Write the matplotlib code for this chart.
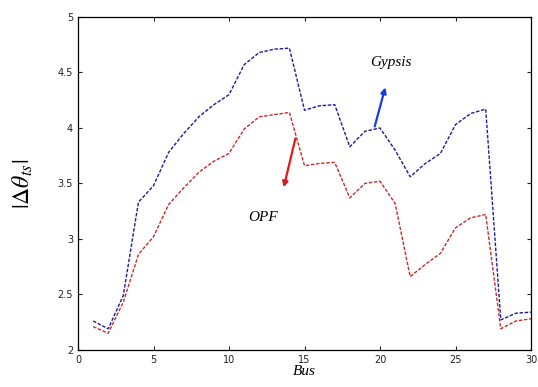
import numpy as np
import matplotlib
matplotlib.use('Agg')
import matplotlib.pyplot as plt

plt.rcParams['mathtext.fontset'] = 'stix'

# bus index and angle-difference magnitudes
bus = list(range(1, 31))
gypsis = [2.26, 2.19, 2.49, 3.33, 3.48, 3.78, 3.95, 4.10, 4.21, 4.30,
          4.57, 4.68, 4.71, 4.72, 4.16, 4.20, 4.21, 3.83, 3.97, 4.00,
          3.80, 3.56, 3.68, 3.77, 4.03, 4.13, 4.17, 2.27, 2.33, 2.34]
opf = [2.21, 2.15, 2.43, 2.86, 3.02, 3.31, 3.46, 3.60, 3.70, 3.77,
       3.99, 4.10, 4.12, 4.14, 3.66, 3.68, 3.69, 3.37, 3.50, 3.52,
       3.32, 2.66, 2.77, 2.87, 3.10, 3.19, 3.22, 2.19, 2.26, 2.28]

xticks = [0, 5, 10, 15, 20, 25, 30]
yticks = [2, 2.5, 3, 3.5, 4, 4.5, 5]

fig = plt.figure(figsize=(5.38, 3.87), dpi=100)
ax = fig.add_axes([0.145, 0.096, 0.842, 0.86])

ax.plot(bus, gypsis, color='#1c1c9a', lw=1.0, ls=(0, (2.5, 1.2)))
ax.plot(bus, opf, color='#cc2a2a', lw=1.0, ls=(0, (2.5, 1.2)))

ax.set_xlim(0, 30)
ax.set_ylim(2, 5)
ax.set_xticks(xticks)
ax.set_yticks(yticks)
ax.set_xticklabels([str(t) for t in xticks])
ax.set_yticklabels(['2', '2.5', '3', '3.5', '4', '4.5', '5'])
ax.tick_params(direction='in', top=True, right=True, labelsize=7,
               length=3, width=0.8, colors='#222222')
for s in ax.spines.values():
    s.set_linewidth(0.9)

serif_it = dict(family='Liberation Serif', style='italic', fontsize=11)

ax.annotate('', xy=(20.4, 4.39), xytext=(19.6, 3.99),
            arrowprops=dict(arrowstyle='-|>', color='#1a3ae0', lw=1.6,
                            mutation_scale=8))
ax.text(20.7, 4.59, 'Gypsis', ha='center', va='center', **serif_it)

ax.annotate('', xy=(13.58, 3.44), xytext=(14.44, 3.93),
            arrowprops=dict(arrowstyle='-|>', color='#e01a1a', lw=1.6,
                            mutation_scale=8))
ax.text(12.25, 3.19, 'OPF', ha='center', va='center', **serif_it)

ax.set_xlabel('Bus', labelpad=0, **serif_it)
ax.set_ylabel(r'$|\Delta\theta_{ts}|$', fontsize=17, labelpad=16)

fig.savefig('out.png', dpi=100)
